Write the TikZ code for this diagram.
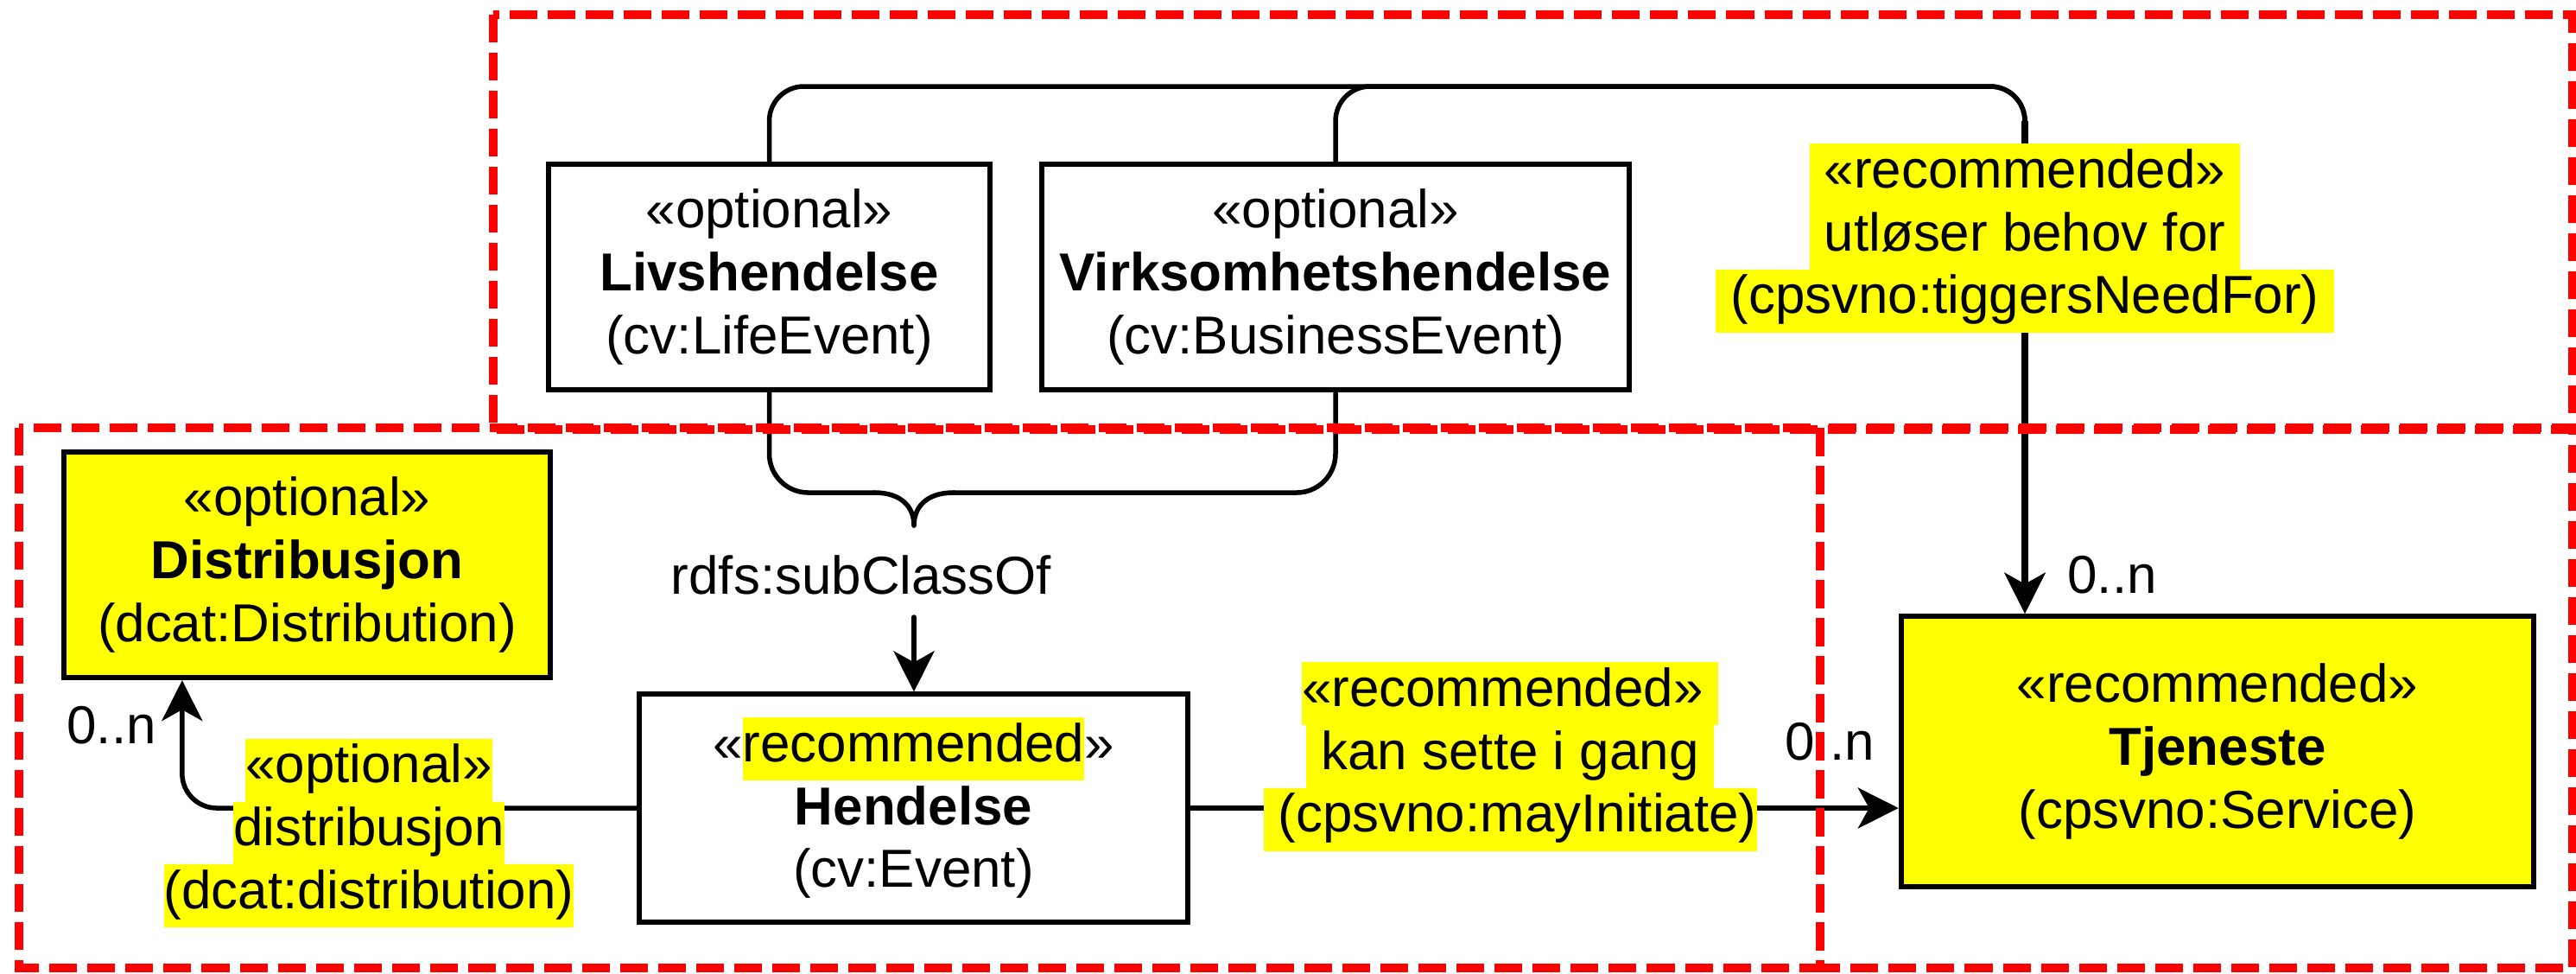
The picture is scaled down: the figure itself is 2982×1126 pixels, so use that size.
\documentclass[tikz,border=0pt]{standalone}
\usepackage{fontspec}
\setmainfont{Liberation Sans}
\usetikzlibrary{arrows.meta,calc}
\definecolor{hlyellow}{RGB}{255,255,0}
\definecolor{zonered}{RGB}{255,0,0}
\newcommand\hl[1]{{\setlength\fboxsep{0pt}\colorbox{hlyellow}{\strut #1}}}
\begin{document}
\begin{tikzpicture}[x=0.01cm,y=-0.01cm,
  every node/.style={font=\fontsize{17.6pt}{20.7pt}\selectfont},
  cls/.style={draw=black,line width=0.06cm,align=center,inner sep=0pt},
  lbl/.style={align=center,inner sep=0pt},
  card/.style={inner sep=0pt,anchor=base},
  conn/.style={draw=black,line width=0.055cm,line cap=round},
  tip/.style={-{Stealth[length=0.47cm,width=0.47cm,inset=0.13cm]}},
  zone/.style={draw=zonered,line width=0.1cm,dash pattern=on 0.32cm off 0.12cm}]
\useasboundingbox (0,0) rectangle (2982,1126);
\fill[white] (0,0) rectangle (2982,1126);

% class nodes
\node[cls,minimum width=5.11cm,minimum height=2.61cm] (liv) at (890.5,320.5)
  {«optional»\\\textbf{Livshendelse}\\(cv:LifeEvent)};
\node[cls,minimum width=6.80cm,minimum height=2.61cm] (virk) at (1546,320.5)
  {«optional»\\\textbf{Virksomhetshendelse}\\(cv:BusinessEvent)};
\node[cls,fill=hlyellow,minimum width=5.63cm,minimum height=2.61cm] (dist) at (355.5,653.5)
  {«optional»\\\textbf{Distribusjon}\\(dcat:Distribution)};
\node[cls,minimum width=6.35cm,minimum height=2.63cm] (hend) at (1057.5,935)
  {«\hl{recommended}»\\\textbf{Hendelse}\\(cv:Event)};
\node[cls,fill=hlyellow,minimum width=7.32cm,minimum height=3.13cm] (tjen) at (2567,869.5)
  {«recommended»\\\textbf{Tjeneste}\\(cpsvno:Service)};

% helper coordinates
\coordinate (tp) at (2344,100);
\coordinate (subtip) at (1058,714);
\coordinate (brtip) at (1058,608);
\coordinate (brl) at (1012,570);
\coordinate (brr) at (1104,570);
\path (dist.south west) ++(140,0) coordinate (dtip);

% top connectors to Tjeneste
\draw[conn,line width=0.085cm,line cap=butt] ($(tp)+(0,40)$) -- ($(tp|-tjen.north)+(0,-30)$);
\draw[conn,tip,rounded corners=0.4cm] (liv.north) |- (tp) -- (tp|-tjen.north);
\draw[conn,tip,rounded corners=0.4cm] (virk.north) |- (tp) -- (tp|-tjen.north);

% brace
\draw[conn,rounded corners=0.45cm] (liv.south) |- (brl);
\draw[conn] (brl) .. controls (1045,570) and (1058,588) .. (brtip);
\draw[conn,rounded corners=0.45cm] (virk.south) |- (brr);
\draw[conn] (brr) .. controls (1071,570) and (1058,588) .. (brtip);

% subclass arrow
\draw[conn,tip] (subtip) -- (subtip|-hend.north);
\node[card] (sub) at (997,687) {rdfs:subClassOf};

% Hendelse -> Distribusjon
\draw[conn,tip,rounded corners=0.4cm] (hend.west) -| (dtip);
% Hendelse -> Tjeneste
\draw[conn,tip] (hend.east) -- (hend.east-|tjen.west);

% labels
\node[lbl] (lutl) at (2344,275.5)
  {\hl{\ «recommended»\ }\\\hl{\ utløser behov for\ }\\\hl{\ (cpsvno:tiggersNeedFor)\ }};
\node[lbl] (ldist) at (427,964)
  {\hl{«optional»}\\\hl{distribusjon}\\\hl{(dcat:distribution)}};
\node[lbl] (lmay) at (1748,875.5)
  {\hl{«recommended»\ }\\\hl{\ kan sette i gang\ }\\\hl{\ (cpsvno:mayInitiate)}};

% cardinalities
\node[card] (c1) at (129,860) {0..n};
\node[card] (c2) at (2118,879) {0..n};
\node[card] (c3) at (2445,686) {0..n};

% zones
\draw[zone] (571,17) rectangle (2978,497);
\draw[zone] (22,495) rectangle (2107,1120);
\draw[zone] (2107,495) rectangle (2978,1120);
\end{tikzpicture}
\end{document}
